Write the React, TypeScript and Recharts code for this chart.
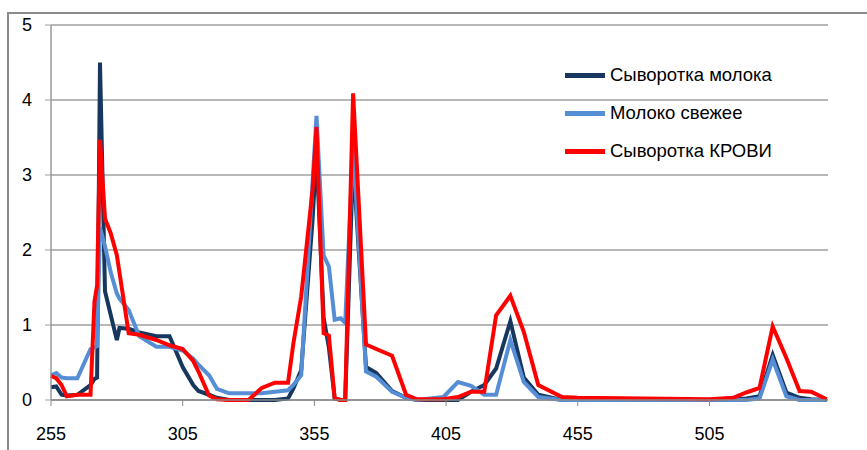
import React from 'react';
import {
  LineChart,
  Line,
  XAxis,
  YAxis,
  CartesianGrid,
} from 'recharts';

// wavelength points (shared by all three series)
const wavelengths = [
  255, 257, 259, 261, 265, 270, 271.5, 272.5, 273.6, 275.5, 277.7, 280, 281,
  284.5, 288.5, 295, 300, 305, 309, 311, 315, 318, 322.6, 330, 335, 340, 345,
  347, 350, 354.3, 355.8, 358.5, 360.5, 362.7, 365, 366.7, 369.7, 374.6, 378.5,
  384.5, 389.8, 394, 404, 409.5, 414.5, 419.5, 424, 429.4, 434.5, 440, 449, 455,
  505, 514, 519, 524, 529, 534.2, 539.2, 543.6, 549.5,
];

const serumMilk = [
  0.17, 0.18, 0.07, 0.06, 0.07, 0.2, 0.28, 0.3, 4.5, 1.45, 1.13, 0.8, 0.96,
  0.95, 0.9, 0.85, 0.85, 0.44, 0.2, 0.12, 0.07, 0.03, 0, 0, 0, 0, 0.02,
  0.15, 0.4, 2.4, 3.3, 1.1, 0.7, 0.02, 0, 0, 3.2, 0.44, 0.36,
  0.12, 0.03, 0, 0, 0, 0.11, 0.2, 0.42, 1.05, 0.3, 0.07, 0, 0,
  0, 0.01, 0.02, 0.05, 0.6, 0.1, 0.03, 0.01, 0,
];

const freshMilk = [
  0.33, 0.36, 0.3, 0.29, 0.29, 0.68, 0.7, 0.72, 2.3, 2.05, 1.7, 1.42, 1.35,
  1.2, 0.85, 0.71, 0.71, 0.66, 0.55, 0.47, 0.33, 0.15, 0.09, 0.09, 0.09, 0.11, 0.13,
  0.2, 0.33, 2.9, 3.79, 1.93, 1.78, 1.07, 1.09, 1.03, 3.4, 0.38, 0.31,
  0.11, 0.03, 0, 0.04, 0.24, 0.19, 0.07, 0.07, 0.8, 0.24, 0.04, 0, 0,
  0, 0, 0, 0.02, 0.54, 0.05, 0, 0, 0,
];

const serumBlood = [
  0.32, 0.29, 0.2, 0.05, 0.07, 0.07, 1.31, 1.53, 3.47, 2.42, 2.22, 1.93, 1.7,
  0.89, 0.87, 0.8, 0.73, 0.68, 0.52, 0.38, 0.06, 0.01, 0, 0, 0.16, 0.23, 0.23,
  0.75, 1.38, 2.8, 3.64, 0.89, 0.86, 0.02, 0, 0, 4.09, 0.74, 0.68,
  0.59, 0.07, 0.01, 0.01, 0.04, 0.11, 0.11, 1.13, 1.39, 0.91, 0.2, 0.04, 0.03,
  0.01, 0.03, 0.1, 0.16, 0.98, 0.56, 0.12, 0.11, 0.01,
];

const xTicks = [255, 305, 355, 405, 455, 505];
const yTicks = [0, 1, 2, 3, 4, 5];

const series = [
  { key: 'milkSerum', name: 'Сыворотка молока', color: '#17375E' },
  { key: 'milkFresh', name: 'Молоко свежее', color: '#558ED5' },
  { key: 'bloodSerum', name: 'Сыворотка КРОВИ', color: '#FF0000' },
];

const data = wavelengths.map((x, i) => ({
  x,
  milkSerum: serumMilk[i],
  milkFresh: freshMilk[i],
  bloodSerum: serumBlood[i],
}));

const FONT = '"Liberation Sans", Arial, sans-serif';

const App = () => {
  return (
    <div style={{ position: 'absolute', left: 0, top: 0, width: 867, height: 450, background: '#fff' }}>
      {/* chart frame */}
      <div
        style={{
          position: 'absolute',
          left: 7,
          top: 12,
          width: 860,
          height: 438,
          borderTop: '2px solid #8a8a8a',
          borderLeft: '2px solid #8a8a8a',
        }}
      />
      <LineChart
        width={867}
        height={450}
        data={data}
        margin={{ top: 25, right: 39, left: 11, bottom: 20 }}
        style={{ position: 'absolute', left: 0, top: 0 }}
      >
        <CartesianGrid vertical={false} stroke="#a0a0a0" strokeWidth={1.3} />
        <XAxis
          dataKey="x"
          type="number"
          domain={[255, 550]}
          ticks={xTicks}
          height={30}
          axisLine={{ stroke: '#8a8a8a', strokeWidth: 1.3 }}
          tickLine={{ stroke: '#8a8a8a' }}
          tickSize={6}
          tickMargin={21}
          tick={{ fontSize: 18, fill: '#000', fontFamily: FONT }}
        />
        <YAxis
          domain={[0, 5]}
          ticks={yTicks}
          width={40}
          axisLine={{ stroke: '#8a8a8a', strokeWidth: 1.3 }}
          tickLine={{ stroke: '#a0a0a0' }}
          tickSize={6}
          tickMargin={13}
          tick={{ fontSize: 18, fill: '#000', fontFamily: FONT }}
        />
        {series.map((s) => (
          <Line
            key={s.key}
            type="linear"
            dataKey={s.key}
            name={s.name}
            stroke={s.color}
            strokeWidth={4}
            dot={false}
            isAnimationActive={false}
          />
        ))}
      </LineChart>
      {/* legend */}
      <div style={{ position: 'absolute', left: 565, top: 56, fontFamily: FONT }}>
        {series.map((s) => (
          <div key={s.key} style={{ display: 'flex', alignItems: 'center', height: 38 }}>
            <span
              style={{
                display: 'inline-block',
                width: 40,
                height: 5,
                background: s.color,
                marginRight: 5,
              }}
            />
            <span style={{ fontSize: 18.5, color: '#000' }}>{s.name}</span>
          </div>
        ))}
      </div>
    </div>
  );
};

export default App;
